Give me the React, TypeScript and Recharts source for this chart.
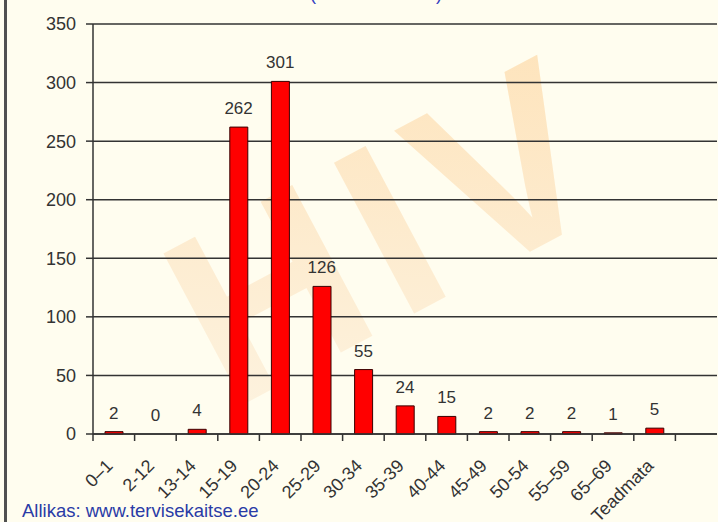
import React from 'react';
import { Bar, CartesianGrid, ComposedChart, Line, XAxis, YAxis } from 'recharts';

const ageGroups = ['0–1', '2-12', '13-14', '15-19', '20-24', '25-29', '30-34', '35-39', '40-44', '45-49', '50-54', '55–59', '65–69', 'Teadmata', ''];
const cases = [2, 0, 4, 262, 301, 126, 55, 24, 15, 2, 2, 2, 1, 5, null];
const yTicks = [0, 50, 100, 150, 200, 250, 300, 350];

const data = ageGroups.map((name, i) => ({ name, value: cases[i] }));

const FONT = '"Liberation Sans", Arial, sans-serif';
const INK = '#333333';

const AgeTick = (props: any) => {
  const { x, y, payload, width, visibleTicksCount } = props;
  const half = payload.offset ?? width / (2 * visibleTicksCount);
  return (
    <g>
      <line x1={x - half} x2={x - half} y1={y} y2={y + 7} stroke={INK} strokeWidth={1.5} />
      <text
        x={x}
        y={y + 33}
        textAnchor="end"
        transform={`rotate(-45, ${x}, ${y + 33})`}
        fontSize={18}
        fontFamily={FONT}
        fill={INK}
      >
        {payload.value}
      </text>
    </g>
  );
};

// value above each bar; taken from an invisible line so the 0 gets a label too
const ValueLabel = (props: any) => {
  const { x, y, value } = props;
  if (value == null) return null;
  return (
    <text x={x} y={y - 13} textAnchor="middle" fontSize={17} fontFamily={FONT} fill={INK}>
      {value}
    </text>
  );
};

export default function App() {
  return (
    <div
      style={{
        position: 'absolute',
        left: 0,
        top: 0,
        width: 718,
        height: 522,
        background: '#fffdef',
        overflow: 'hidden',
        fontFamily: FONT,
      }}
    >
      <svg width={718} height={522} style={{ position: 'absolute', left: 0, top: 0 }}>
        <defs>
          <linearGradient id="wm" x1="0" y1="1" x2="1" y2="0">
            <stop offset="0%" stopColor="#fdf4e2" />
            <stop offset="45%" stopColor="#fdecd0" />
            <stop offset="100%" stopColor="#fee2b8" />
          </linearGradient>
        </defs>
        <text
          x={430}
          y={305}
          textAnchor="middle"
          fontSize={248}
          fontWeight="bold"
          fontFamily={FONT}
          letterSpacing={14}
          fill="url(#wm)"
          transform="rotate(-28, 430, 305)"
        >
          HIV
        </text>
        <text x={310} y={0} fontSize={18} fill="#3340c0" textLength={132} lengthAdjust="spacing">
          (aasta 2001)
        </text>
        <text x={22} y={517} fontSize={18.5} fontFamily={FONT} fill="#2a3ba6">
          Allikas: www.tervisekaitse.ee
        </text>
      </svg>
      <div style={{ position: 'absolute', left: 0, top: 0 }}>
        <ComposedChart width={718} height={522} data={data} margin={{ top: 24, right: 1, bottom: 0, left: 0 }}>
          <CartesianGrid vertical={false} stroke={INK} strokeWidth={1.5} />
          <XAxis
            dataKey="name"
            interval={0}
            height={88}
            tickSize={0}
            tickMargin={0}
            tickLine={false}
            axisLine={{ stroke: INK, strokeWidth: 1.5 }}
            tick={<AgeTick />}
          />
          <YAxis
            width={93}
            domain={[0, 350]}
            ticks={yTicks}
            interval={0}
            tickSize={7}
            tickMargin={10}
            axisLine={{ stroke: INK, strokeWidth: 1.5 }}
            tickLine={{ stroke: INK, strokeWidth: 1.5 }}
            tick={{ fontSize: 18, fill: INK, fontFamily: FONT }}
          />
          <Bar dataKey="value" fill="#ff0000" stroke="#3a0000" strokeWidth={1} barSize={18} isAnimationActive={false} />
          <Line
            dataKey="value"
            stroke="none"
            dot={false}
            activeDot={false}
            legendType="none"
            label={<ValueLabel />}
            isAnimationActive={false}
          />
        </ComposedChart>
      </div>
      <div style={{ position: 'absolute', left: 4, top: 0, width: 3, height: 522, background: '#505050', zIndex: 5 }} />
    </div>
  );
}
